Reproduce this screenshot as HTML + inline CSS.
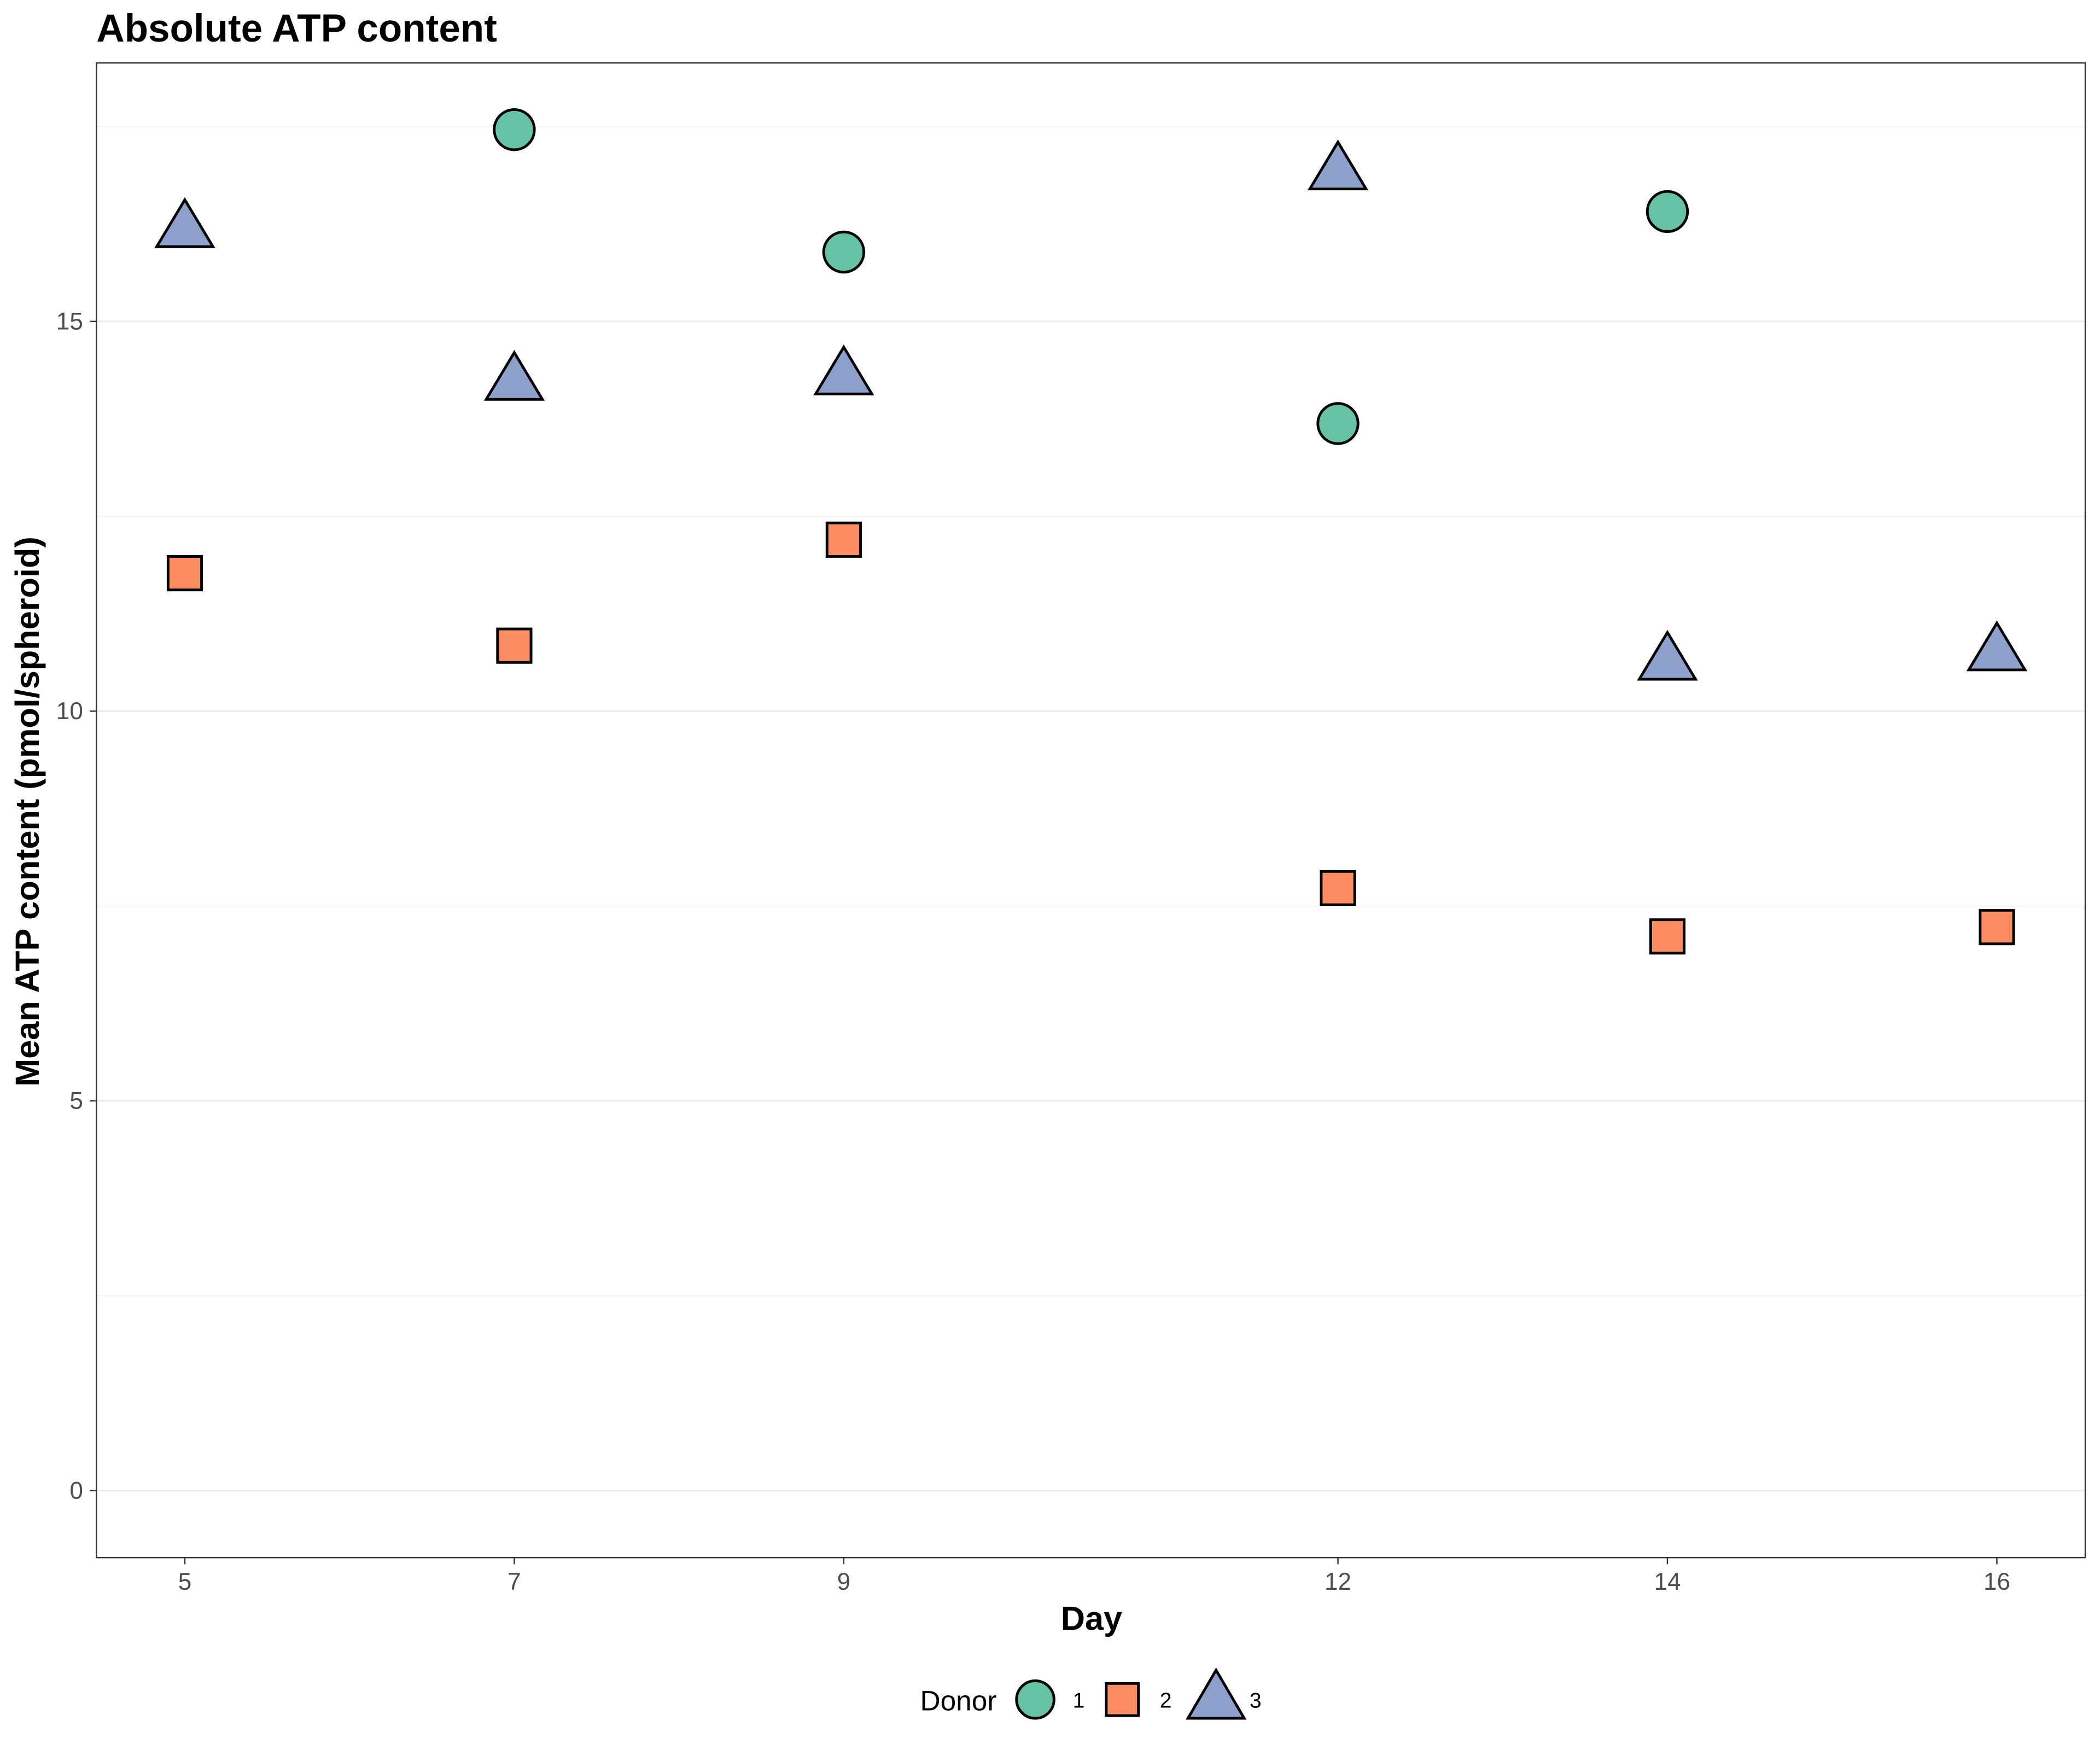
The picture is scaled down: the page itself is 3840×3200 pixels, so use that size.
<!DOCTYPE html>
<html><head><meta charset="utf-8"><style>
html,body{margin:0;padding:0;background:#fff;}
svg{display:block;font-family:"Liberation Sans",Arial,sans-serif;}
</style></head><body>
<svg id="chart" width="3840" height="3200" viewBox="0 0 1568 1306.67" xmlns="http://www.w3.org/2000/svg">
<rect x="0" y="0" width="1568" height="1306.67" fill="#fff"/>
<text x="72" y="31" font-size="29" font-weight="bold" fill="#000">Absolute ATP content</text>
<g id="grid"></g>
<g id="ticks"></g>
<g id="marks"></g>
<rect x="72" y="47" width="1485" height="1116" fill="none" stroke="#333" stroke-width="1"/>
<text x="815" y="1217" font-size="25" font-weight="bold" text-anchor="middle">Day</text>
<text transform="translate(29,606) rotate(-90)" font-size="25" font-weight="bold" text-anchor="middle">Mean ATP content (pmol/spheroid)</text>
<g>
<text x="687" y="1277" font-size="21">Donor</text>
<circle cx="773" cy="1269" r="14" fill="#66c2a5" stroke="#000" stroke-width="2"/>
<text x="801" y="1275" font-size="16">1</text>
<rect x="826" y="1257" width="24" height="24" fill="#fc8d62" stroke="#000" stroke-width="2"/>
<text x="866" y="1275" font-size="16">2</text>
<polygon points="908,1247 929,1283 887,1283" fill="#8da0cb" stroke="#000" stroke-width="2"/>
<text x="933" y="1275" font-size="16">3</text>
</g>
</svg>
<script>
const days = [5,7,9,12,14,16];
const donor1Days = [7,9,12,14];
const donor1Values = [17.46,15.89,13.69,16.41];
const donor2Days = [5,7,9,12,14,16];
const donor2Values = [11.77,10.84,12.2,7.73,7.11,7.23];
const donor3Days = [5,7,9,12,14,16];
const donor3Values = [16.2,14.24,14.31,16.94,10.65,10.77];
const yTicks = [0,5,10,15];
const yGrid = [0,2.5,5,7.5,10,12.5,15,17.5];

const NS = "http://www.w3.org/2000/svg";
function xs(d){ return 138 + (d-5)*123; }
function ys(v){ return 1113 - v*58.2; }
function mk(tag, attrs, parent){
  const e = document.createElementNS(NS, tag);
  for (const k in attrs) e.setAttribute(k, attrs[k]);
  parent.appendChild(e); return e;
}
const grid = document.getElementById('grid');
const ticks = document.getElementById('ticks');
const marks = document.getElementById('marks');
yGrid.forEach(v=>{
  const l = mk('line',{x1:72,x2:1557,y1:ys(v),y2:ys(v),stroke:(v%5===0)?'#ebebeb':'#f3f3f3','stroke-width':(v%5===0)?1.2:0.8},grid);
  
  
});
yTicks.forEach(v=>{
  mk('line',{x1:67,x2:72,y1:ys(v),y2:ys(v),stroke:'#333'},ticks);
  const t = mk('text',{x:62,y:ys(v)+6,'font-size':18,fill:'#4d4d4d','text-anchor':'end'},ticks);
  t.textContent = v;
  
  
});
days.forEach(d=>{
  mk('line',{x1:xs(d),x2:xs(d),y1:1163,y2:1168,stroke:'#333'},ticks);
  const t = mk('text',{x:xs(d),y:1187,'font-size':18,fill:'#4d4d4d','text-anchor':'middle'},ticks);
  t.textContent = d;
  
  
});
donor1Days.forEach((d,i)=>{
  const c = mk('circle',{cx:xs(d),cy:ys(donor1Values[i]),r:15,fill:'#66c2a5',stroke:'#000','stroke-width':2},marks);
  
  
});
donor2Days.forEach((d,i)=>{
  const x = xs(d), y = ys(donor2Values[i]);
  const r = mk('rect',{x:x-12.5,y:y-12.5,width:25,height:25,fill:'#fc8d62',stroke:'#000','stroke-width':2},marks);
  
  
});
donor3Days.forEach((d,i)=>{
  const x = xs(d), y = ys(donor3Values[i]);
  const p = mk('polygon',{points:`${x},${y-21} ${x+21},${y+14} ${x-21},${y+14}`,fill:'#8da0cb',stroke:'#000','stroke-width':2},marks);
  
  
});
</script>
</body></html>
